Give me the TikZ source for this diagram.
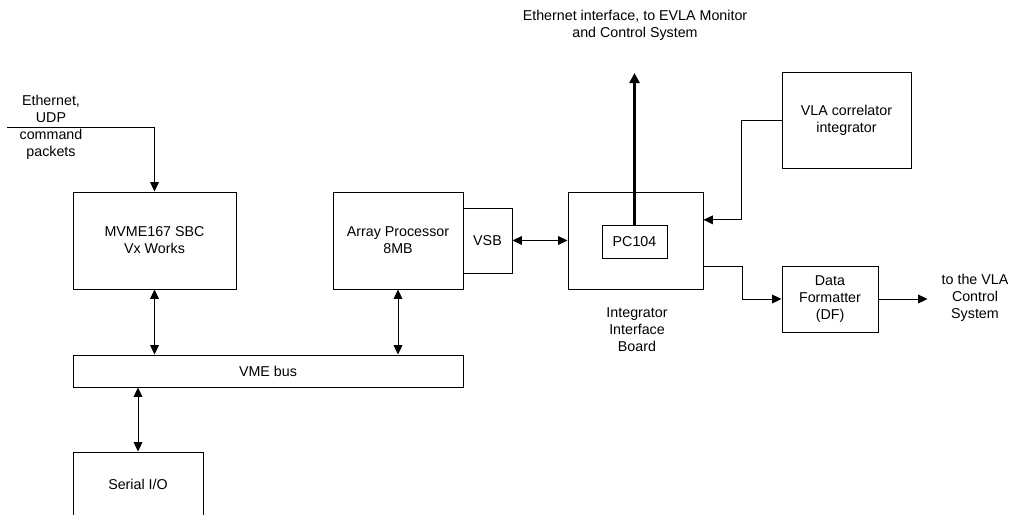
\documentclass[tikz,border=0pt]{standalone}
\usepackage{fontspec}
\setmainfont{Liberation Sans}
\usetikzlibrary{arrows.meta,calc}
\newdimen\px
\px=0.75pt
\tikzset{
  blk/.style={draw=black, line width=1\px, inner sep=0pt, align=center,
    font=\fontsize{10.7}{12.75}\selectfont},
  lbl/.style={inner sep=0pt, align=center, font=\fontsize{10.7}{12.75}\selectfont},
  wire/.style={line width=1\px, -{Triangle[length=7pt,width=6.5pt]}},
  bus/.style={line width=1\px, {Triangle[length=7pt,width=6.5pt]}-{Triangle[length=7pt,width=6.5pt]}},
  thick wire/.style={line width=3\px, -{Triangle[length=7.5pt,width=7.5pt]}}
}
\begin{document}
\begin{tikzpicture}[x=1\px, y=-1\px]
\useasboundingbox (0,0) rectangle (1010,514);
\clip (0,0) rectangle (1010,514);

% boxes
\node[blk, minimum width=163\px, minimum height=97\px] (mvme) at (154.5,240.5) {MVME167 SBC\\Vx Works};
\node[blk, minimum width=130\px, minimum height=97\px] (ap) at (398,240.5) {Array Processor\\8MB};
\node[blk, minimum width=49\px, minimum height=65\px] (vsb) at (487.5,240.5) {VSB};
\node[blk, minimum width=135\px, minimum height=97\px] (iib) at (635.5,240.5) {};
\node[blk, minimum width=65\px, minimum height=33\px] (pc) at (634.5,241.5) {PC104};
\node[blk, minimum width=129\px, minimum height=96\px] (corr) at (846.5,120) {VLA correlator\\integrator};
\node[blk, minimum width=96\px, minimum height=66\px] (df) at (830,299) {Data\\Formatter\\(DF)};
\node[blk, minimum width=390\px, minimum height=32\px] (vme) at (268,371) {VME bus};
\node[blk, minimum width=130\px, minimum height=64\px] (serial) at (138,484) {Serial I/O};

% free labels
\node[lbl] (ethlbl) at (51,127) {Ethernet,\\UDP\\command\\packets};
\node[lbl] (toplbl) at (635,25) {Ethernet interface, to EVLA Monitor\\and Control System};
\node[lbl] (iiblbl) at (637,330) {Integrator\\Interface\\Board};
\node[lbl] (vlalbl) at (975,298) {to the VLA\\Control\\System};

% connectors
\coordinate (ethin) at (7,127);
\draw[wire] (ethin) -| (mvme.north);
\draw[bus] (mvme.south) -- (mvme.south |- vme.north);
\draw[bus] (ap.south) -- (ap.south |- vme.north);
\draw[bus] (serial.north |- vme.south) -- (serial.north);
\draw[bus] (vsb.east) -- (iib.west);
\coordinate (mcs) at (634.5,73);
\draw[thick wire] (pc.north) -- (mcs);
\draw[wire] (corr.west) -- ++(-40,0) |- ($(iib.north east)!0.289!(iib.south east)$);
\draw[wire] ($(iib.north east)!0.763!(iib.south east)$) -- ++(39,0) |- (df.west);
\draw[wire] (df.east) -- ++(49,0);
\end{tikzpicture}
\end{document}
